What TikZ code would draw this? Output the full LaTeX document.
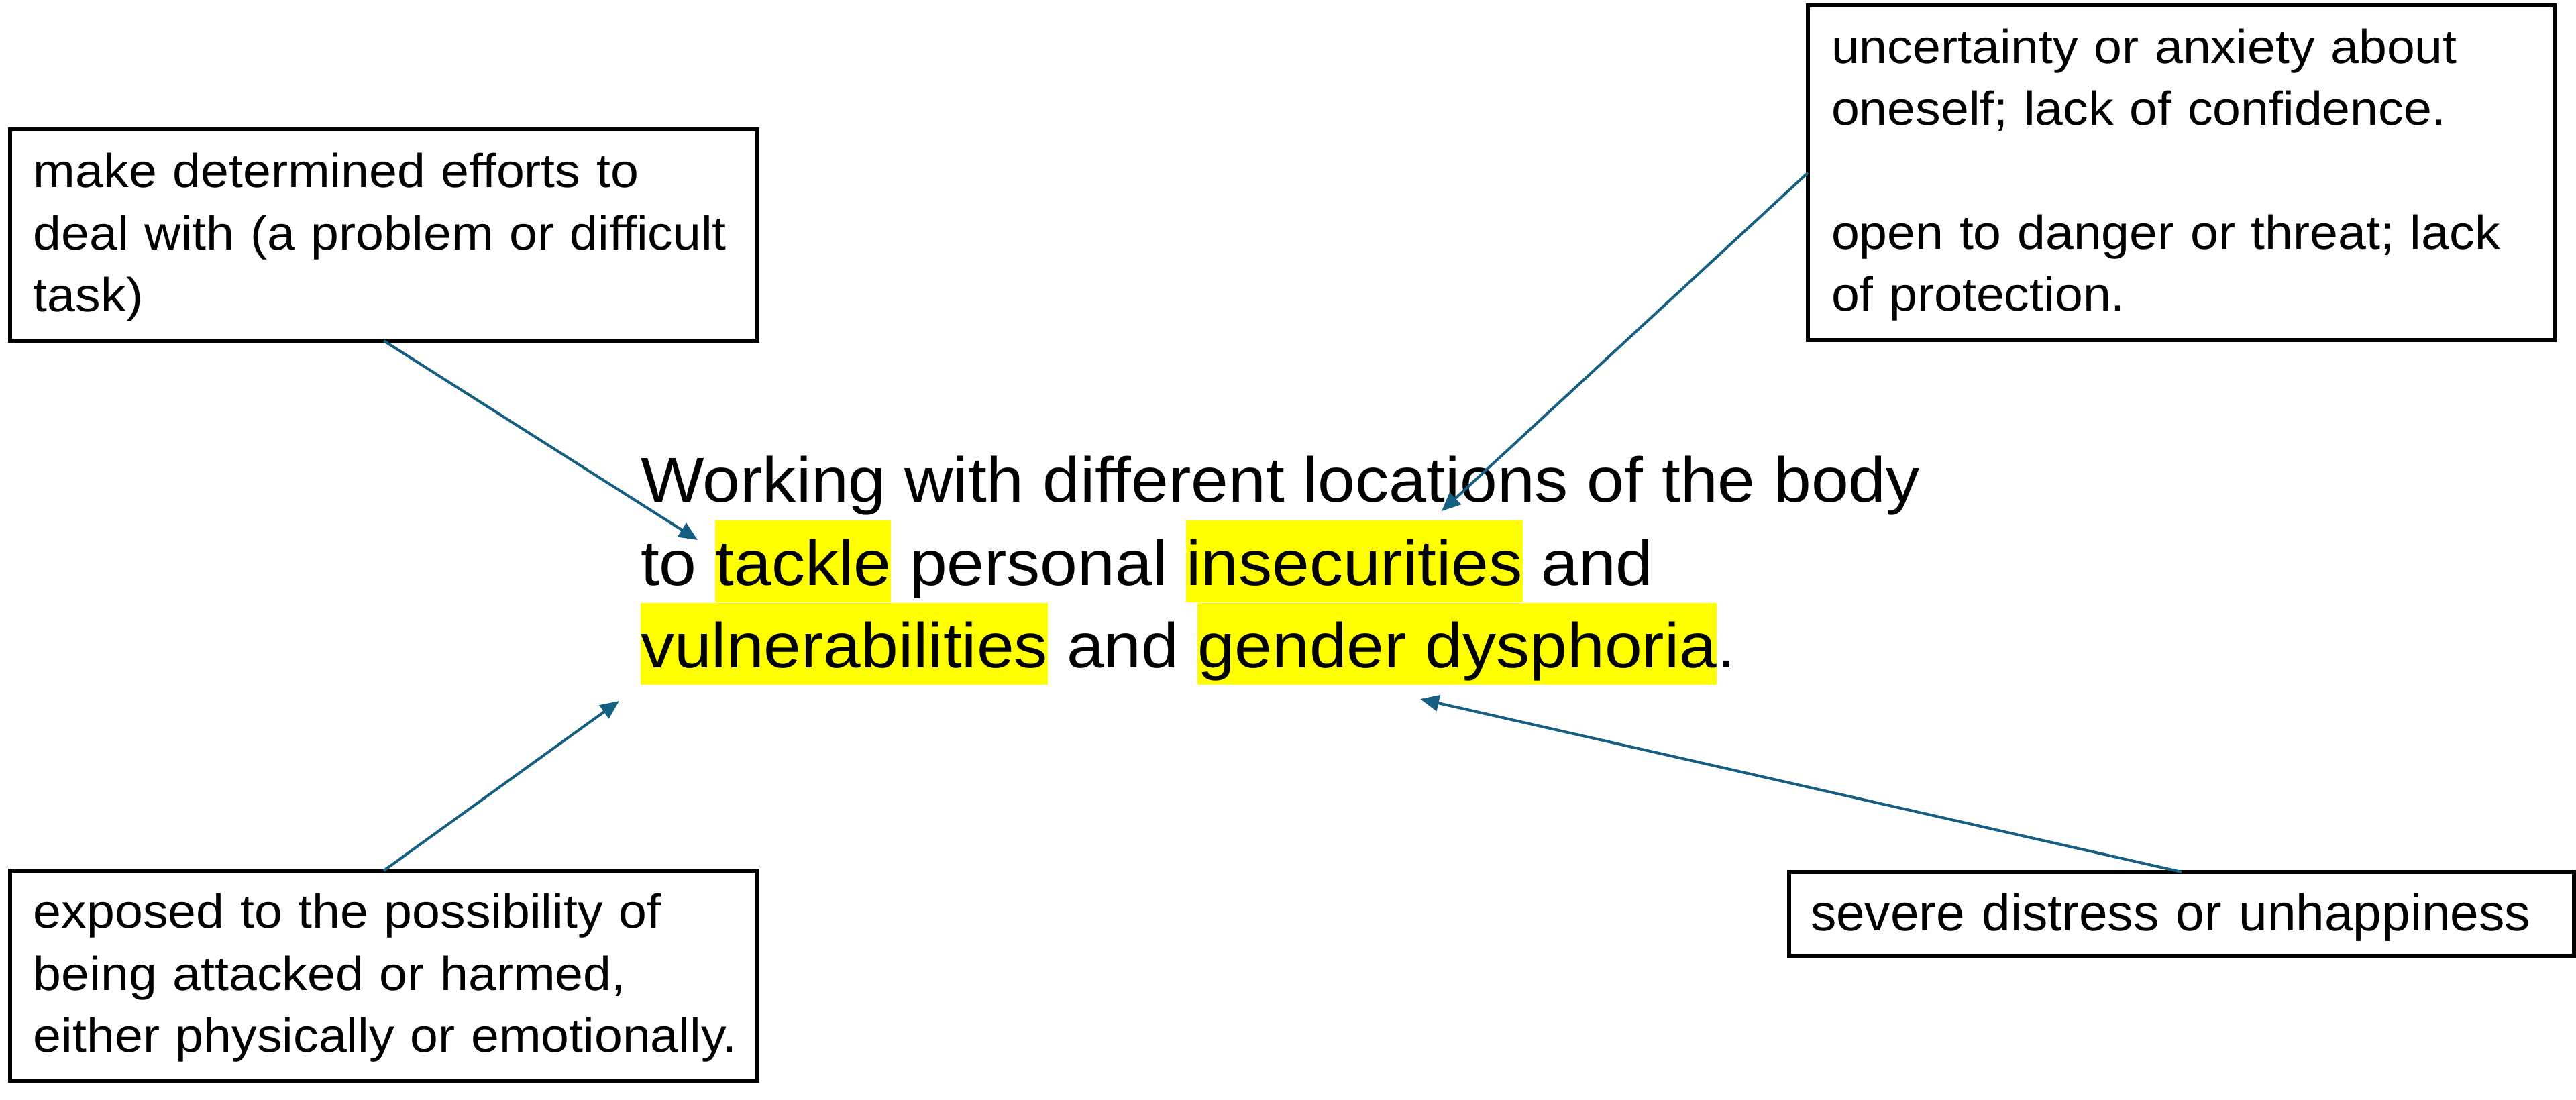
\documentclass[tikz,border=0pt]{standalone}
\usepackage{fontspec}
\setmainfont{Liberation Sans}[FakeStretch=1.06]
\newfontfamily\plainarial{Liberation Sans}
\usetikzlibrary{arrows.meta}
\definecolor{arrowblue}{HTML}{156082}
\definecolor{hlyellow}{HTML}{FFFF00}
\newcommand\hlword[1]{{\setlength{\fboxsep}{0pt}\colorbox{hlyellow}{\rule[-0.26cm]{0pt}{1.22cm}#1}}}
\newcommand\firststrut{\rule{0pt}{0.66cm}}
\newcommand\laststrut{\rule[-0.23cm]{0pt}{0.23cm}}
\tikzset{
  defbox/.style={draw=black, line width=0.055cm, rectangle, align=left,
    inner xsep=0.35cm, inner ysep=0pt, outer sep=0pt,
    font=\fontsize{20.2}{26.2}\selectfont},
  linetext/.style={anchor=base west, inner sep=0pt, outer sep=0pt,
    font=\fontsize{26.9}{35}\selectfont},
  pointer/.style={draw=arrowblue, line width=0.04cm,
    -{Triangle[length=0.28cm,width=0.24cm]}}
}
\begin{document}
\begin{tikzpicture}
\useasboundingbox (0,0) rectangle (38.4,-16.39);
% central sentence
\node[linetext] (L1) at (9.55,-7.48) {Working with different locations of the body};
\node[linetext] (L2) at (9.55,-8.72) {to \hlword{tackle} personal \hlword{insecurities} and};
\node[linetext] (L3) at (9.55,-9.95) {\hlword{vulnerabilities} and \hlword{gender dysphoria}.};
% definition boxes
\node[defbox, text width=10.44cm, minimum height=3.15cm] (A) at (5.72,-3.505)
  {\firststrut make determined efforts to\\ deal with (a problem or difficult\\ task)\laststrut};
\node[defbox, text width=10.43cm, minimum height=4.99cm] (B) at (32.515,-2.575)
  {\firststrut uncertainty or anxiety about\\ oneself; lack of confidence.\\ \mbox{}\\ open to danger or threat; lack\\ of protection.\laststrut};
\node[defbox, text width=10.44cm, minimum height=3.13cm] (C) at (5.72,-14.545)
  {\firststrut exposed to the possibility of\\ being attacked or harmed,\\ \mbox{either physically or emotionally.}\laststrut};
\node[defbox, text width=11.06cm, inner xsep=0.32cm, minimum height=1.25cm,
  text height=0.70cm, text depth=0.21cm,
  font=\plainarial\fontsize{21.8}{26}\selectfont] (D) at (32.52,-13.625)
  {severe distress or unhappiness};
% arrow tips
\coordinate (tA) at (10.40,-8.05);
\coordinate (tB) at (21.49,-7.62);
\coordinate (tC) at (9.23,-10.45);
\coordinate (tD) at (21.17,-10.42);
\draw[pointer] (A.south) -- (tA);
\draw[pointer] (B.west) -- (tB);
\draw[pointer] (C.north) -- (tC);
\draw[pointer] (D.north) -- (tD);
\end{tikzpicture}
\end{document}
